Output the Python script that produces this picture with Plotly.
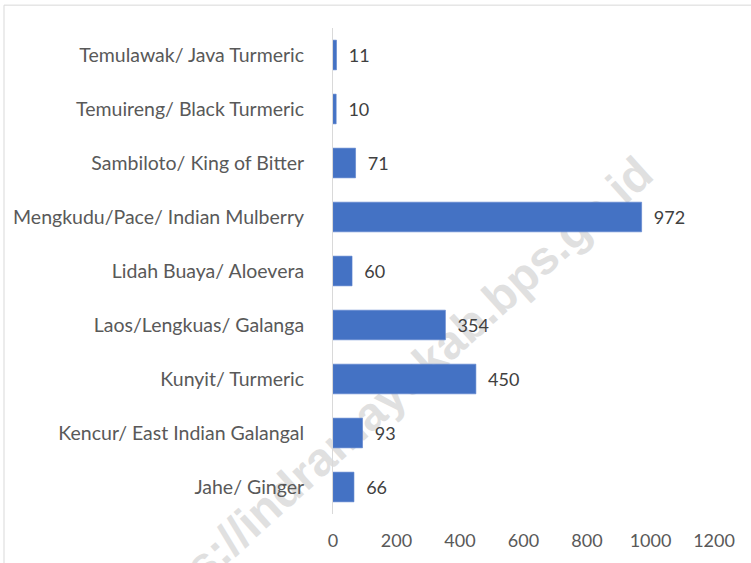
import plotly.graph_objects as go

categories = [
    "Jahe/ Ginger",
    "Kencur/ East Indian Galangal",
    "Kunyit/ Turmeric",
    "Laos/Lengkuas/ Galanga",
    "Lidah Buaya/ Aloevera",
    "Mengkudu/Pace/ Indian Mulberry",
    "Sambiloto/ King of Bitter",
    "Temuireng/ Black Turmeric",
    "Temulawak/ Java Turmeric",
]
values = [66, 93, 450, 354, 60, 972, 71, 10, 11]
x_ticks = [0, 200, 400, 600, 800, 1000, 1200]
watermark = "https://indramayukab.bps.go.id"

W, H = 751, 563
L, R, T, B = 333, 37, 28, 46
pw, ph = W - L - R, H - T - B


def px(x):
    return (x - L) / pw


def py(y):
    return (H - B - y) / ph


FONT = "Lato"

fig = go.Figure()
fig.add_trace(go.Bar(
    y=categories, x=values, orientation="h",
    marker=dict(color="#4472C4", line=dict(color="#5a82cc", width=0.6)),
    text=["\u00a0\u00a0" + str(v) for v in values],
    textposition="outside",
    textfont=dict(family=FONT, size=18, color="#404040"),
    cliponaxis=False,
    hoverinfo="skip",
))

# watermark as a below-layer shape label (behind bars)
cx, cy = 383, 398
fig.add_shape(
    type="rect", xref="paper", yref="paper",
    x0=px(cx - 5), x1=px(cx + 5), y0=py(cy + 5), y1=py(cy - 5),
    line=dict(width=0), fillcolor="rgba(0,0,0,0)", layer="below",
    label=dict(text="<b>" + watermark + "</b>", textangle=-42,
               textposition="middle center",
               font=dict(family="Liberation Sans", size=47, color="#e0e0e0")),
)

# outer chart frame (light gray)
fig.add_shape(
    type="rect", xref="paper", yref="paper",
    x0=px(4), x1=px(W + 20), y0=py(H + 20), y1=py(5),
    line=dict(color="#d9d9d9", width=1), fillcolor="rgba(0,0,0,0)", layer="below",
)

fig.update_layout(
    width=W, height=H,
    margin=dict(l=L, r=R, t=T, b=B),
    paper_bgcolor="white",
    plot_bgcolor="rgba(0,0,0,0)",
    bargap=0.45,
    showlegend=False,
    xaxis=dict(
        range=[0, 1200], tickvals=x_ticks, showgrid=False, zeroline=False,
        showline=False, ticks="", ticklabelstandoff=14,
        tickfont=dict(family=FONT, size=18, color="#595959"), fixedrange=True,
    ),
    yaxis=dict(
        showgrid=False, zeroline=False, showline=True, linecolor="#d9d9d9",
        linewidth=1, ticks="", ticklabelstandoff=24,
        tickfont=dict(family=FONT, size=19.5, color="#595959"), fixedrange=True,
    ),
)

fig.write_html(
    "out.html",
    config={"displayModeBar": False},
    post_script="document.body.style.margin='0';document.body.style.overflow='hidden';",
)
